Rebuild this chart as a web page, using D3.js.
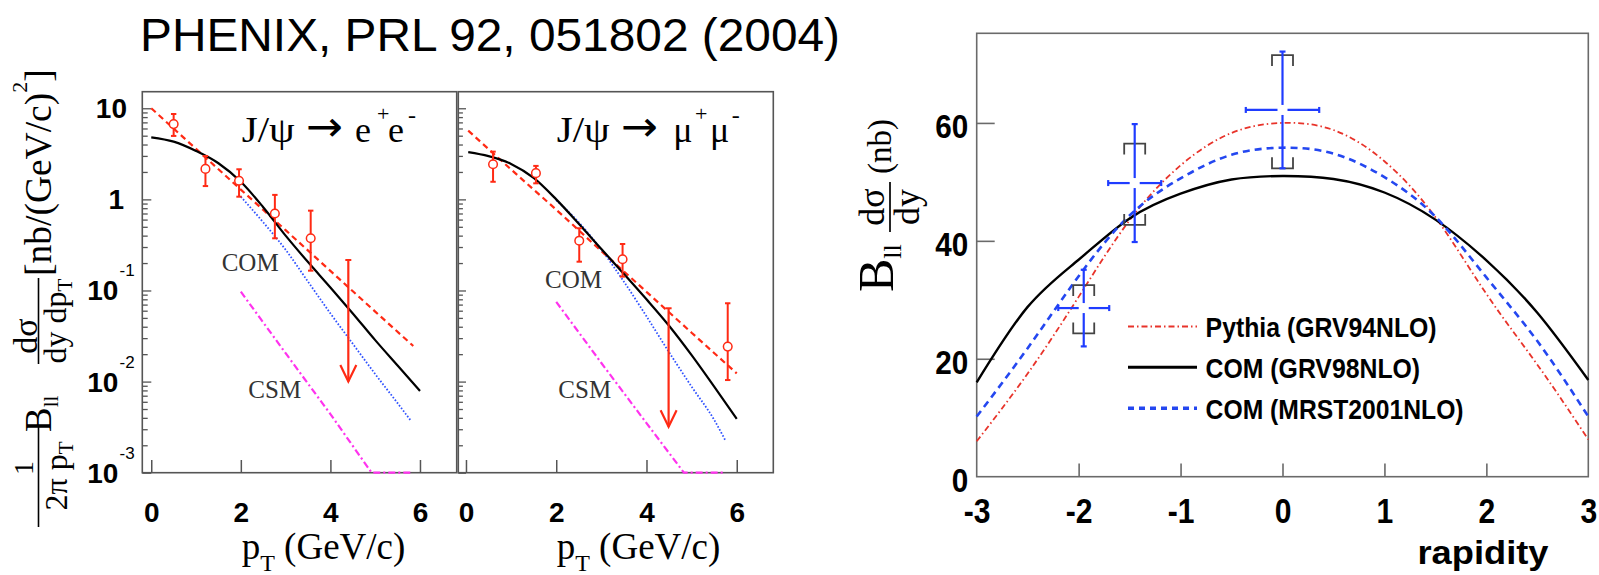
<!DOCTYPE html>
<html>
<head>
<meta charset="utf-8">
<script src="https://cdn.jsdelivr.net/npm/d3@7"></script>
<style>
  html, body { margin: 0; padding: 0; background: #fff; }
  svg { display: block; }
</style>
</head>
<body>
<svg id="chart" width="1599" height="575"></svg>
<script>
// ---------------- data: J/psi -> e+e- (pT spectrum) ----------------
const eePt      = [0.5, 1.21, 1.96, 2.76, 3.56];
const eeVal     = [6.7, 2.16, 1.60, 0.70, 0.374];
const eeHi      = [8.65, 2.99, 2.14, 1.12, 0.752];
const eeLo      = [4.97, 1.40, 1.07, 0.374, 0.165];
const eeLimitPt = [4.40];
const eeLimitTop = [0.216];
const eeLimitTip = [0.010];

const eeFitPt  = [0, 1, 2, 3, 4, 5, 5.85];
const eeFitVal = [10, 3.58, 1.28, 0.459, 0.164, 0.0587, 0.0246];
const eeTotPt  = [0, 0.5, 1, 1.5, 2, 2.5, 3, 3.5, 4, 4.5, 5, 5.5, 6];
const eeTotVal = [4.8, 4.3, 3.4, 2.49, 1.56, 0.82, 0.40, 0.205, 0.108, 0.056, 0.0285, 0.0150, 0.0079];
const eeComPt  = [2, 2.5, 3, 3.5, 4, 4.5, 5, 5.5, 5.8];
const eeComVal = [1.07, 0.56, 0.28, 0.125, 0.056, 0.026, 0.0121, 0.0058, 0.0037];
const eeCsmPt  = [2, 3, 4, 4.92, 5.8];
const eeCsmVal = [0.097, 0.0205, 0.0044, 0.001, 0.001];

// ---------------- data: J/psi -> mu+mu- (pT spectrum) ----------------
const mmPt      = [0.6, 1.55, 2.51, 3.47, 5.80];
const mmVal     = [2.43, 1.94, 0.352, 0.22, 0.0242];
const mmHi      = [3.34, 2.33, 0.482, 0.324, 0.0724];
const mmLo      = [1.56, 1.50, 0.207, 0.142, 0.0104];
const mmLimitPt = [4.49];
const mmLimitTop = [0.0638];
const mmLimitTip = [0.0032];

const mmFitPt  = [0.05, 1, 2, 3, 4, 5, 6];
const mmFitVal = [5.68, 2.13, 0.77, 0.271, 0.0966, 0.0344, 0.0123];
const mmTotPt  = [0.05, 0.5, 1, 1.5, 2, 2.5, 3, 3.5, 4, 4.5, 5, 5.5, 6];
const mmTotVal = [3.3, 2.98, 2.45, 1.72, 1.0, 0.54, 0.285, 0.152, 0.080, 0.041, 0.0195, 0.0088, 0.0039];
const mmComPt  = [2, 2.5, 3, 3.5, 4, 4.5, 5, 5.5, 5.74];
const mmComVal = [0.98, 0.56, 0.28, 0.125, 0.052, 0.021, 0.0088, 0.0038, 0.0023];
const mmCsmPt  = [2, 3, 4, 4.83, 5.7];
const mmCsmVal = [0.075, 0.016, 0.0035, 0.001, 0.001];

const ptTicks = [0, 2, 4, 6];
const logMajor = [1e-3, 1e-2, 1e-1, 1, 10];

// ---------------- data: rapidity distribution ----------------
const rapGrid   = [-3, -2.5, -2, -1.5, -1, -0.5, 0, 0.5, 1, 1.5, 2, 2.5, 3];
const pythiaGRV94 = [6, 17.5, 30.5, 43.5, 52.8, 58.3, 60, 58.8, 53.5, 44, 31, 19, 6.3];
const comGRV98    = [16, 28.8, 36.8, 43.8, 48, 50.4, 51, 50.5, 48.2, 43.6, 36.7, 27.8, 16.4];
const comMRST2001 = [10.2, 21.8, 34, 44.3, 50.6, 54.6, 55.8, 54.8, 50.8, 44.1, 33.8, 23, 10.2];

const rapPt    = [-1.95, -1.45, 0];
const rapVal   = [28.6, 49.8, 62.2];
const rapStat  = [6.5, 10.0, 9.9];
const rapXerr  = [0.25, 0.26, 0.36];
const rapSysLo = [24.3, 42.7, 52.3];
const rapSysHi = [32.5, 56.5, 71.5];
const rapXTicks = [-3, -2, -1, 0, 1, 2, 3];
const rapYTicks = [0, 20, 40, 60];

const legendNames = ["Pythia (GRV94NLO)", "COM (GRV98NLO)", "COM (MRST2001NLO)"];

// ---------------- styling ----------------
const SERIF = "'Liberation Serif','Times New Roman',Times,serif";
const SANS  = "'Liberation Sans',Arial,Helvetica,sans-serif";
const RED = "#ff2a14", BLUEDOT = "#2f52ff", MAGENTA = "#ff33ee";
const FRAME = "#555";

const svg = d3.select("#chart");
svg.append("rect").attr("width", 1599).attr("height", 575).attr("fill", "#fff");

// text built from tspans, optionally turned to read bottom-to-top
function richText(parent, x, y, parts, opts = {}) {
  const t = parent.append("text")
    .attr("x", x).attr("y", y)
    .attr("font-family", opts.family || SERIF)
    .attr("font-weight", opts.weight || "normal")
    .attr("text-anchor", opts.anchor || "start")
    .attr("fill", opts.fill || "#000");
  if (opts.rotate) t.attr("transform", `rotate(-90,${x},${y})`);
  if (opts.len) t.attr("textLength", opts.len).attr("lengthAdjust", "spacingAndGlyphs");
  parts.forEach(p => {
    const s = t.append("tspan").attr("font-size", p.size).text(p.t);
    if (p.dy) s.attr("dy", p.dy);
  });
  return t;
}

// title
svg.append("text").attr("x", 140).attr("y", 51)
  .attr("font-family", SANS).attr("font-size", 47).attr("fill", "#000")
  .attr("textLength", 700).attr("lengthAdjust", "spacingAndGlyphs")
  .text("PHENIX, PRL 92, 051802 (2004)");

// ---------------- pT panels ----------------
const plotTop = 91.7, plotBottom = 472.7;
const yPt = d3.scaleLog().domain([1e-3, 15.2]).range([plotBottom, plotTop]);
const logMinor = [];
for (let e = -3; e <= 1; e++) for (let m = 2; m <= 9; m++) {
  const v = m * Math.pow(10, e);
  if (v <= 15.2) logMinor.push(v);
}

const ptPanels = [
  {
    left: 142.3, right: 456.7, dom: [-0.2, 6.82], labels: true,
    pt: eePt, val: eeVal, hi: eeHi, lo: eeLo,
    limPt: eeLimitPt, limTop: eeLimitTop, limTip: eeLimitTip,
    fit: [eeFitPt, eeFitVal], tot: [eeTotPt, eeTotVal], com: [eeComPt, eeComVal], csm: [eeCsmPt, eeCsmVal],
    comLabel: [221.7, 270.7], csmLabel: [248.3, 398.3],
    title: { jpsi: 241.7, arrow: 306, p1: 355, sup1: 377, p2: 388, sup2: 408, particle: "e" }
  },
  {
    left: 458.3, right: 773.3, dom: [-0.17, 6.81], labels: false,
    pt: mmPt, val: mmVal, hi: mmHi, lo: mmLo,
    limPt: mmLimitPt, limTop: mmLimitTop, limTip: mmLimitTip,
    fit: [mmFitPt, mmFitVal], tot: [mmTotPt, mmTotVal], com: [mmComPt, mmComVal], csm: [mmCsmPt, mmCsmVal],
    comLabel: [545, 288.3], csmLabel: [558.3, 398.3],
    title: { jpsi: 556.7, arrow: 621, p1: 673.3, sup1: 695, p2: 710, sup2: 731.7, particle: "μ" }
  }
];

ptPanels.forEach(cfg => {
  const x = d3.scaleLinear().domain(cfg.dom).range([cfg.left, cfg.right]);
  const g = svg.append("g");

  // frame
  g.append("rect")
    .attr("x", cfg.left).attr("y", plotTop)
    .attr("width", cfg.right - cfg.left).attr("height", plotBottom - plotTop)
    .attr("fill", "none").attr("stroke", FRAME).attr("stroke-width", 1.6);

  // log ticks on the left edge, pointing inward
  const tickSize = cfg.labels ? 9 : 7.7;
  const gMaj = g.append("g").attr("transform", `translate(${cfg.left},0)`)
    .call(d3.axisRight(yPt).tickValues(logMajor).tickSize(tickSize).tickFormat(""));
  const gMin = g.append("g").attr("transform", `translate(${cfg.left},0)`)
    .call(d3.axisRight(yPt).tickValues(logMinor).tickSize(tickSize * 0.6).tickFormat(""));
  [gMaj, gMin].forEach(a => {
    a.select(".domain").remove();
    a.selectAll("line").attr("stroke", FRAME).attr("stroke-width", 1.3);
  });

  // x ticks, pointing up from the bottom edge
  const gx = g.append("g").attr("transform", `translate(0,${plotBottom})`)
    .call(d3.axisTop(x).tickValues(ptTicks).tickSize(12.7).tickFormat(""));
  gx.select(".domain").remove();
  gx.selectAll("line").attr("stroke", FRAME).attr("stroke-width", 1.5);

  // x tick labels
  const gxl = g.append("g").attr("transform", `translate(0,${plotBottom})`)
    .call(d3.axisBottom(x).tickValues(ptTicks).tickSize(0).tickPadding(29.5).tickFormat(d => String(d)));
  gxl.select(".domain").remove();
  gxl.selectAll("text").attr("font-family", SANS).attr("font-weight", "bold")
    .attr("font-size", 28).attr("fill", "#000");

  // y tick labels (left panel only)
  if (cfg.labels) {
    logMajor.forEach(v => {
      const yy = yPt(v) + 10;
      if (v === 10) {
        richText(g, 127, yy, [{ t: "10", size: 28 }], { family: SANS, weight: "bold", anchor: "end" });
      } else if (v === 1) {
        richText(g, 124, yy, [{ t: "1", size: 28 }], { family: SANS, weight: "bold", anchor: "end" });
      } else {
        const ex = Math.round(Math.log10(v));
        richText(g, 118.3, yy, [{ t: "10", size: 28 }], { family: SANS, weight: "bold", anchor: "end" });
        richText(g, 119.5, yy - 24, [{ t: String(ex), size: 17 }], { family: SANS });
      }
    });
  }

  // curves
  const line = d3.line().x(d => x(d[0])).y(d => yPt(d[1])).curve(d3.curveMonotoneX);
  const straight = d3.line().x(d => x(d[0])).y(d => yPt(d[1]));
  const pairs = (a, b) => a.map((v, i) => [v, b[i]]);
  g.append("path").datum(pairs(cfg.csm[0], cfg.csm[1])).attr("d", straight)
    .attr("fill", "none").attr("stroke", MAGENTA).attr("stroke-width", 2.2)
    .attr("stroke-dasharray", "7 3 2 3");
  g.append("path").datum(pairs(cfg.com[0], cfg.com[1])).attr("d", line)
    .attr("fill", "none").attr("stroke", BLUEDOT).attr("stroke-width", 1.8)
    .attr("stroke-dasharray", "1.6 1.8");
  g.append("path").datum(pairs(cfg.fit[0], cfg.fit[1])).attr("d", line)
    .attr("fill", "none").attr("stroke", RED).attr("stroke-width", 2.2)
    .attr("stroke-dasharray", "6 4");
  g.append("path").datum(pairs(cfg.tot[0], cfg.tot[1])).attr("d", line)
    .attr("fill", "none").attr("stroke", "#000").attr("stroke-width", 2.2);

  // curve labels
  richText(g, cfg.comLabel[0], cfg.comLabel[1], [{ t: "COM", size: 25 }], { fill: "#333" });
  richText(g, cfg.csmLabel[0], cfg.csmLabel[1], [{ t: "CSM", size: 25 }], { fill: "#333" });

  // data: error bars + open circles
  cfg.pt.forEach((p, i) => {
    const cx = x(p);
    g.append("line").attr("x1", cx).attr("x2", cx).attr("y1", yPt(cfg.hi[i])).attr("y2", yPt(cfg.lo[i]))
      .attr("stroke", RED).attr("stroke-width", 2);
    [cfg.hi[i], cfg.lo[i]].forEach(v => {
      g.append("line").attr("x1", cx - 2.7).attr("x2", cx + 2.7).attr("y1", yPt(v)).attr("y2", yPt(v))
        .attr("stroke", RED).attr("stroke-width", 2);
    });
    g.append("circle").attr("cx", cx).attr("cy", yPt(cfg.val[i])).attr("r", 4.3)
      .attr("fill", "#fff").attr("stroke", RED).attr("stroke-width", 1.5);
  });

  // upper limit arrow
  cfg.limPt.forEach((p, i) => {
    const cx = x(p), y0 = yPt(cfg.limTop[i]), y1 = yPt(cfg.limTip[i]);
    g.append("line").attr("x1", cx).attr("x2", cx).attr("y1", y0).attr("y2", y1)
      .attr("stroke", RED).attr("stroke-width", 2.2);
    g.append("line").attr("x1", cx - 3).attr("x2", cx + 3).attr("y1", y0).attr("y2", y0)
      .attr("stroke", RED).attr("stroke-width", 2);
    g.append("path").attr("d", `M${cx - 8},${y1 - 16.5}L${cx},${y1}L${cx + 8},${y1 - 16.5}`)
      .attr("fill", "none").attr("stroke", RED).attr("stroke-width", 2.2);
  });

  // decay channel label
  const T = cfg.title, base = 141.7;
  richText(g, T.jpsi, base, [{ t: "J/ψ", size: 36 }], { len: 53 });
  richText(g, T.arrow, base - 1, [{ t: "→", size: 42 }], { len: 37, family: "'DejaVu Sans',sans-serif" });
  richText(g, T.p1, base, [{ t: cfg.title.particle, size: 36 }]);
  richText(g, T.sup1, base - 21, [{ t: "+", size: 22 }]);
  richText(g, T.p2, base, [{ t: cfg.title.particle, size: 36 }]);
  richText(g, T.sup2, base - 19, [{ t: "-", size: 24 }]);

  // x axis title
  richText(g, T.jpsi, 559, [
    { t: "p", size: 37 }, { t: "T", size: 24, dy: 11.7 }, { t: " (GeV/c)", size: 37, dy: -11.7 }
  ]);
});

// y axis title for the pT panels
richText(svg, 33, 468, [{ t: "1", size: 28 }], { anchor: "middle", rotate: true });
svg.append("line").attr("x1", 38.5).attr("x2", 38.5).attr("y1", 425).attr("y2", 527)
  .attr("stroke", "#000").attr("stroke-width", 1.6);
richText(svg, 67, 476, [{ t: "2π p", size: 32 }, { t: "T", size: 21, dy: 6 }], { anchor: "middle", rotate: true });
richText(svg, 51, 432, [{ t: "B", size: 37 }, { t: "ll", size: 21, dy: 7 }], { rotate: true });
richText(svg, 36.5, 336, [{ t: "dσ", size: 34 }], { anchor: "middle", rotate: true });
svg.append("line").attr("x1", 38.5).attr("x2", 38.5).attr("y1", 278).attr("y2", 364)
  .attr("stroke", "#000").attr("stroke-width", 1.6);
richText(svg, 66, 321, [{ t: "dy dp", size: 32 }, { t: "T", size: 21, dy: 6 }], { anchor: "middle", rotate: true });
richText(svg, 51, 276, [
  { t: "[nb/(GeV/c)", size: 37.5 }, { t: "2", size: 22, dy: -24 }, { t: "]", size: 37.5, dy: 24 }
], { rotate: true });

// ---------------- rapidity panel ----------------
const rLeft = 976.7, rRight = 1588.3, rTop = 33.3, rBottom = 476.7;
const xR = d3.scaleLinear().domain([-3, 3]).range([rLeft, rRight]);
const yR = d3.scaleLinear().domain([0, 75.2]).range([rBottom, rTop]);
const gR = svg.append("g");

gR.append("rect").attr("x", rLeft).attr("y", rTop)
  .attr("width", rRight - rLeft).attr("height", rBottom - rTop)
  .attr("fill", "none").attr("stroke", "#6a6a6a").attr("stroke-width", 1.6);

const gRy = gR.append("g").attr("transform", `translate(${rLeft},0)`)
  .call(d3.axisRight(yR).tickValues(rapYTicks.filter(v => v > 0)).tickSize(18).tickFormat(""));
gRy.select(".domain").remove();
gRy.selectAll("line").attr("stroke", "#6a6a6a").attr("stroke-width", 1.6);

const gRx = gR.append("g").attr("transform", `translate(0,${rBottom})`)
  .call(d3.axisTop(xR).tickValues(rapXTicks.slice(1, -1)).tickSize(13.3).tickFormat(""));
gRx.select(".domain").remove();
gRx.selectAll("line").attr("stroke", "#6a6a6a").attr("stroke-width", 1.6);

// tick labels: bold, slightly condensed
const gRyl = gR.append("g").attr("transform", `translate(${rLeft},0)`)
  .call(d3.axisLeft(yR).tickValues(rapYTicks).tickSize(0).tickPadding(9.3).tickFormat(d => String(d)));
gRyl.select(".domain").remove();
gRyl.selectAll("text").attr("font-family", SANS).attr("font-weight", "bold")
  .attr("font-size", 33).attr("fill", "#000").attr("dy", "0.44em")
  .attr("transform", "scale(0.9,1)");

const gRxl = gR.append("g").attr("transform", `translate(0,${rBottom})`)
  .call(d3.axisBottom(xR).tickValues(rapXTicks).tickSize(0).tickPadding(21.5).tickFormat(d => String(d)));
gRxl.select(".domain").remove();
gRxl.selectAll("text").attr("font-family", SANS).attr("font-weight", "bold")
  .attr("font-size", 35).attr("fill", "#000").attr("transform", "scale(0.86,1)");

// theory curves
const lineR = d3.line().x(d => xR(d[0])).y(d => yR(d[1])).curve(d3.curveNatural);
const curvesR = [
  { vals: pythiaGRV94, color: "#e8332a", width: 1.8, dash: "6 3 1.5 3" },
  { vals: comGRV98, color: "#000", width: 2.4, dash: null },
  { vals: comMRST2001, color: "#2447f0", width: 2.6, dash: "7 5" }
];
curvesR.forEach(c => {
  const p = gR.append("path").datum(rapGrid.map((r, i) => [r, c.vals[i]])).attr("d", lineR)
    .attr("fill", "none").attr("stroke", c.color).attr("stroke-width", c.width);
  if (c.dash) p.attr("stroke-dasharray", c.dash);
});

// systematic brackets
const SYS = "#444", bw = 10.5, leg = 11;
rapPt.forEach((r, i) => {
  const cx = xR(r), yt = yR(rapSysHi[i]), yb = yR(rapSysLo[i]);
  gR.append("path").attr("d", `M${cx - bw},${yt + leg}V${yt}H${cx + bw}V${yt + leg}`)
    .attr("fill", "none").attr("stroke", SYS).attr("stroke-width", 1.8);
  gR.append("path").attr("d", `M${cx - bw},${yb - leg}V${yb}H${cx + bw}V${yb - leg}`)
    .attr("fill", "none").attr("stroke", SYS).attr("stroke-width", 1.8);
});

// data crosses
const DATA = "#1f3cff", gap = 5, cap = 3;
rapPt.forEach((r, i) => {
  const cx = xR(r), cy = yR(rapVal[i]);
  const yt = yR(rapVal[i] + rapStat[i]), yb = yR(rapVal[i] - rapStat[i]);
  const xl = xR(r - rapXerr[i]), xr = xR(r + rapXerr[i]);
  const segs = [
    [cx, yt, cx, cy - gap], [cx, cy + gap, cx, yb],
    [xl, cy, cx - gap, cy], [cx + gap, cy, xr, cy],
    [cx - cap, yt, cx + cap, yt], [cx - cap, yb, cx + cap, yb],
    [xl, cy - cap, xl, cy + cap], [xr, cy - cap, xr, cy + cap]
  ];
  segs.forEach(s => gR.append("line").attr("x1", s[0]).attr("y1", s[1]).attr("x2", s[2]).attr("y2", s[3])
    .attr("stroke", DATA).attr("stroke-width", 2.2));
});

// legend
const legY = [326.5, 367.3, 408.3];
const legLen = [231, 214.5, 258];
curvesR.forEach((c, i) => {
  const l = gR.append("line").attr("x1", 1128).attr("x2", 1197).attr("y1", legY[i]).attr("y2", legY[i])
    .attr("stroke", c.color).attr("stroke-width", i === 2 ? 3.6 : (i === 0 ? 2 : 3));
  if (i === 0) l.attr("stroke-dasharray", "6 3 1.5 3");
  if (i === 2) l.attr("stroke-dasharray", "6 5");
  gR.append("text").attr("x", 1205.6).attr("y", legY[i] + 10.5)
    .attr("font-family", SANS).attr("font-weight", "bold").attr("font-size", 28).attr("fill", "#000")
    .attr("textLength", legLen[i]).attr("lengthAdjust", "spacingAndGlyphs")
    .text(legendNames[i]);
});

// axis titles
gR.append("text").attr("x", 1417.5).attr("y", 564)
  .attr("font-family", SANS).attr("font-weight", "bold").attr("font-size", 34).attr("fill", "#000")
  .attr("textLength", 131).attr("lengthAdjust", "spacingAndGlyphs").text("rapidity");

richText(svg, 893, 292, [{ t: "B", size: 50 }, { t: "ll", size: 26, dy: 8 }], { rotate: true });
richText(svg, 884, 207, [{ t: "dσ", size: 36 }], { anchor: "middle", rotate: true });
svg.append("line").attr("x1", 890).attr("x2", 890).attr("y1", 182).attr("y2", 232)
  .attr("stroke", "#000").attr("stroke-width", 1.7);
richText(svg, 919, 207, [{ t: "dy", size: 36 }], { anchor: "middle", rotate: true });
richText(svg, 891, 174, [{ t: "(nb)", size: 33 }], { rotate: true });
</script>
</body>
</html>
